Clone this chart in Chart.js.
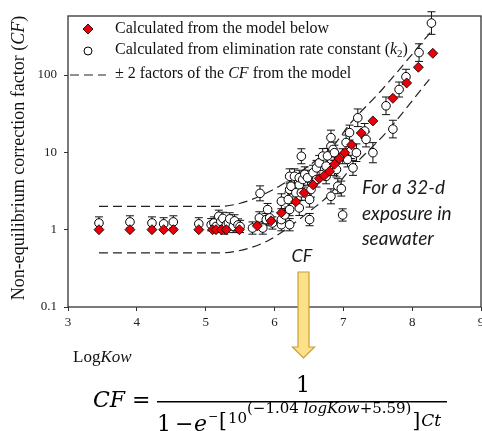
<!DOCTYPE html>
<html lang="en">
<head>
<meta charset="UTF-8">
<title>Non-equilibrium correction factor vs LogKow</title>
<style>
  html, body { margin: 0; padding: 0; background: #fff; overflow: hidden; }
  #wrap { position: relative; width: 500px; height: 431px; }
</style>
<script src="https://cdn.jsdelivr.net/npm/chart.js@4"></script>
</head>
<body>
<div id="wrap"><canvas id="cf-chart" width="500" height="431"></canvas></div>
<script>
// CF calculated from the model (red diamonds)
const modelX = [3.45, 3.90, 4.22, 4.39, 4.53, 4.90, 5.10, 5.15, 5.23, 5.30, 5.49,
                5.75, 5.95, 6.10, 6.31, 6.43, 6.56, 6.65, 6.72, 6.80, 6.87, 6.94,
                7.02, 7.12, 7.26, 7.43, 7.72, 7.92, 8.09, 8.30];
const modelCF = [1, 1, 1, 1, 1, 1, 1, 1, 1, 1, 1,
                 1.12, 1.3, 1.65, 2.3, 3.0, 3.8, 4.6, 5.0, 5.7, 7.0, 8.3,
                 9.9, 12.5, 17.8, 25.5, 50, 79, 126, 191];

// CF calculated from k2 (open circles) and their error factor
const kineticX = [3.45, 3.90, 4.22, 4.39, 4.53, 4.90,
                  5.08, 5.12, 5.15, 5.19, 5.22, 5.25, 5.27, 5.30, 5.33, 5.35, 5.40, 5.42, 5.47, 5.50,
                  5.68, 5.78, 5.79, 5.83, 5.88, 5.90, 5.93, 5.97,
                  6.10, 6.10, 6.10, 6.15, 6.20, 6.22, 6.22, 6.22, 6.22, 6.24, 6.29, 6.31,
                  6.36, 6.36, 6.36, 6.39, 6.39, 6.41, 6.44, 6.48, 6.51, 6.51, 6.53, 6.56,
                  6.61, 6.61, 6.65, 6.70, 6.75, 6.75, 6.77, 6.82, 6.82, 6.82, 6.85, 6.87,
                  6.87, 6.90, 6.92, 6.97, 6.99, 6.99, 7.04, 7.06, 7.09, 7.11, 7.14,
                  7.19, 7.21, 7.31, 7.33, 7.43, 7.62, 7.72, 7.81, 7.91, 8.10, 8.28];
const kineticCF = [1.22, 1.26, 1.22, 1.19, 1.26, 1.19,
                   1.16, 1.22, 1.10, 1.49, 1.28, 1.40, 1.05, 1.16, 1.22, 1.38, 1.10, 1.30, 1.15, 1.10,
                   1.05, 1.42, 2.95, 1.05, 1.35, 1.82, 1.42, 1.22,
                   1.16, 1.35, 2.33, 1.55, 2.45, 1.16, 1.82, 3.3, 4.9, 3.65, 4.9, 3.0,
                   1.91, 3.8, 4.7, 3.0, 8.9, 4.45, 5.2, 4.7, 1.35, 2.45, 3.3, 5.45,
                   4.45, 6.3, 7.3, 8.95, 4.9, 6.65, 9.0, 2.7, 12, 15.5, 10.9, 6.3,
                   9.9, 6.0, 3.65, 3.4, 1.55, 8.9, 13.4, 8.1, 18, 10.4, 6.3,
                   9.9, 28, 18.9, 14.7, 9.9, 40, 20, 65, 95, 195, 470];
const kineticErr = [1.2, 1.2, 1.2, 1.2, 1.2, 1.2,
                    1.2, 1.2, 1.2, 1.2, 1.2, 1.2, 1.2, 1.2, 1.2, 1.2, 1.2, 1.2, 1.2, 1.2,
                    1.2, 1.2, 1.25, 1.2, 1.2, 1.2, 1.2, 1.2,
                    1.2, 1.2, 1.25, 1.2, 1.25, 1.2, 1.2, 1.25, 1.25, 1.25, 1.25, 1.25,
                    1.25, 1.25, 1.25, 1.25, 1.25, 1.25, 1.25, 1.25, 1.2, 1.25, 1.25, 1.25,
                    1.25, 1.25, 1.25, 1.25, 1.25, 1.25, 1.25, 1.25, 1.25, 1.25, 1.25, 1.25,
                    1.25, 1.25, 1.25, 1.25, 1.2, 1.25, 1.25, 1.25, 1.25, 1.25, 1.25,
                    1.3, 1.3, 1.25, 1.25, 1.35, 1.3, 1.3, 1.25, 1.25, 1.3, 1.4];

// +/- 2 factor curves
const upperX = [3.45, 5.2, 5.49, 5.78, 6.07, 6.36, 6.65, 6.85, 7.09, 7.57, 8.27];
const upperCF = [2, 2, 2.18, 2.7, 3.65, 5.45, 8.5, 12, 23, 66, 360];
const lowerX = [3.45, 5.2, 5.64, 5.93, 6.22, 6.51, 6.8, 7.09, 7.62, 8.25];
const lowerCF = [0.5, 0.5, 0.58, 0.74, 1.1, 1.73, 2.85, 5.9, 18, 88];

const yTicks = [0.1, 1, 10, 100];
const yTickLabels = ['0.1', '1', '10', '100'];

const serif = '"Liberation Serif", "Times New Roman", serif';
const mathFont = '"DejaVu Serif", serif';
const sans = 'Lato, "Open Sans", sans-serif';

const pts = (xs, ys) => xs.map((v, i) => ({ x: v, y: ys[i] }));

// write text pieces one after the other, each with own font and offset
function runs(ctx, x, y, parts) {
    parts.forEach(p => {
        ctx.font = p.f;
        x += p.dx || 0;
        ctx.fillText(p.t, x, y + (p.dy || 0));
        x += ctx.measureText(p.t).width;
    });
    return x;
}
function runsWidth(ctx, parts) {
    let w = 0;
    parts.forEach(p => { ctx.font = p.f; w += ctx.measureText(p.t).width + (p.dx || 0); });
    return w;
}

const annotate = {
    id: 'annotate',
    beforeDatasetsDraw(chart) {
        const { ctx, chartArea: a, scales: { x, y } } = chart;
        ctx.save();
        ctx.strokeStyle = '#333';
        ctx.lineWidth = 1.3;
        ctx.strokeRect(a.left, a.top, a.right - a.left, a.bottom - a.top);

        // error bars of the k2 points
        ctx.strokeStyle = '#111';
        ctx.lineWidth = 1;
        kineticX.forEach((v, i) => {
            const px = x.getPixelForValue(v);
            const hi = y.getPixelForValue(kineticCF[i] * kineticErr[i]);
            const lo = y.getPixelForValue(kineticCF[i] / kineticErr[i]);
            ctx.beginPath();
            ctx.moveTo(px, hi); ctx.lineTo(px, lo);
            ctx.moveTo(px - 4, hi); ctx.lineTo(px + 4, hi);
            ctx.moveTo(px - 4, lo); ctx.lineTo(px + 4, lo);
            ctx.stroke();
        });
        ctx.restore();
    },
    afterDraw(chart) {
        const ctx = chart.ctx;
        ctx.save();
        ctx.fillStyle = '#111';
        ctx.textBaseline = 'middle';

        // legend
        ctx.fillStyle = '#e8000b';
        ctx.strokeStyle = '#000';
        ctx.lineWidth = 0.8;
        ctx.beginPath();
        ctx.moveTo(88, 24); ctx.lineTo(93, 29); ctx.lineTo(88, 34); ctx.lineTo(83, 29);
        ctx.closePath(); ctx.fill(); ctx.stroke();
        ctx.fillStyle = '#fff';
        ctx.lineWidth = 1;
        ctx.beginPath(); ctx.arc(88, 51, 4, 0, Math.PI * 2); ctx.fill(); ctx.stroke();
        ctx.strokeStyle = '#222';
        ctx.lineWidth = 1.2;
        ctx.setLineDash([9, 5]);
        ctx.beginPath(); ctx.moveTo(70, 75); ctx.lineTo(106, 75); ctx.stroke();
        ctx.setLineDash([]);

        ctx.fillStyle = '#111';
        const lf = '16px ' + serif, lfi = 'italic 16px ' + serif;
        runs(ctx, 115, 29, [{ t: 'Calculated from the model below', f: lf }]);
        runs(ctx, 115, 50, [
            { t: 'Calculated from elimination rate constant (', f: lf },
            { t: 'k', f: lfi },
            { t: '2', f: '11px ' + serif, dy: 4 },
            { t: ')', f: lf }
        ]);
        runs(ctx, 115, 74, [
            { t: '\u00b1 2 factors of the ', f: lf },
            { t: 'CF', f: lfi },
            { t: ' from the model', f: lf }
        ]);

        // y axis title
        const tf = '18px ' + serif, tfi = 'italic 18px ' + serif;
        const yTitle = [
            { t: 'Non-equilibrium correction factor (', f: tf },
            { t: 'CF', f: tfi },
            { t: ')', f: tf }
        ];
        ctx.save();
        ctx.translate(19, 158);
        ctx.rotate(-Math.PI / 2);
        runs(ctx, -runsWidth(ctx, yTitle) / 2, 0, yTitle);
        ctx.restore();

        // x axis title
        runs(ctx, 73, 358, [{ t: 'Log', f: '17px ' + serif }, { t: 'Kow', f: 'italic 17px ' + serif }]);

        // side note and arrow
        ctx.fillStyle = '#1a1a1a';
        ctx.font = 'italic 19px ' + sans;
        ctx.fillText('For a 32-d', 362, 188);
        ctx.fillText('exposure in', 362, 214);
        ctx.fillText('seawater', 362, 239);
        ctx.font = 'italic 18px ' + sans;
        ctx.textAlign = 'center';
        ctx.fillText('CF', 302, 256);
        ctx.textAlign = 'left';

        ctx.beginPath();
        ctx.moveTo(298, 272); ctx.lineTo(309, 272); ctx.lineTo(309, 347);
        ctx.lineTo(314.5, 347); ctx.lineTo(303.5, 358); ctx.lineTo(292.5, 347);
        ctx.lineTo(298, 347); ctx.closePath();
        ctx.fillStyle = '#fce08a';
        ctx.fill();
        ctx.strokeStyle = '#c9a132';
        ctx.lineWidth = 1.2;
        ctx.stroke();

        // formula
        ctx.fillStyle = '#000';
        ctx.textBaseline = 'alphabetic';
        const mf = '22px ' + mathFont, mfi = 'italic 22px ' + mathFont;
        runs(ctx, 93, 407, [{ t: 'CF', f: mfi }]);
        runs(ctx, 132, 407, [{ t: '=', f: mf }]);
        ctx.strokeStyle = '#000';
        ctx.lineWidth = 1.4;
        ctx.beginPath(); ctx.moveTo(157, 401.7); ctx.lineTo(447, 401.7); ctx.stroke();
        ctx.font = mf;
        ctx.textAlign = 'center';
        ctx.fillText('1', 303, 392);
        ctx.textAlign = 'left';
        runs(ctx, 157, 431, [{ t: '1', f: mf }]);
        runs(ctx, 175, 431, [{ t: '\u2212', f: mf }]);
        let fx = runs(ctx, 194, 431, [{ t: 'e', f: mfi }]);
        fx = runs(ctx, fx + 1, 420, [{ t: '\u2212', f: '12px ' + mathFont }]);
        fx = runs(ctx, fx + 1, 427, [{ t: '[', f: '20px ' + mathFont }]);
        fx = runs(ctx, fx + 1, 423, [{ t: '10', f: '15px ' + mathFont }]);
        fx = runs(ctx, fx, 413, [
            { t: '(\u22121.04 ', f: '15px ' + mathFont },
            { t: 'logKow', f: 'italic 15px ' + mathFont },
            { t: '+5.59)', f: '15px ' + mathFont }
        ]);
        runs(ctx, fx + 1, 427, [
            { t: ']', f: '20px ' + mathFont },
            { t: 'Ct', f: 'italic 17px ' + mathFont, dx: 1, dy: -1 }
        ]);
        ctx.restore();
    }
};

new Chart(document.getElementById('cf-chart').getContext('2d'), {
    type: 'scatter',
    data: {
        datasets: [
            {
                label: 'Calculated from the model below',
                data: pts(modelX, modelCF),
                pointStyle: 'rectRot',
                pointRadius: 5,
                backgroundColor: '#e8000b',
                borderColor: '#000',
                borderWidth: 0.8
            },
            {
                label: 'Calculated from elimination rate constant (k2)',
                data: pts(kineticX, kineticCF),
                pointStyle: 'circle',
                pointRadius: 4.3,
                backgroundColor: '#fff',
                borderColor: '#000',
                borderWidth: 1
            },
            {
                type: 'line',
                label: '+2 factors',
                data: pts(upperX, upperCF),
                borderColor: '#222',
                borderWidth: 1.2,
                borderDash: [9, 5],
                pointRadius: 0,
                cubicInterpolationMode: 'monotone',
                fill: false
            },
            {
                type: 'line',
                label: '-2 factors',
                data: pts(lowerX, lowerCF),
                borderColor: '#222',
                borderWidth: 1.2,
                borderDash: [9, 5],
                pointRadius: 0,
                cubicInterpolationMode: 'monotone',
                fill: false
            }
        ]
    },
    options: {
        responsive: false,
        animation: false,
        layout: { padding: { top: 16, right: 19, left: 0, bottom: 0 } },
        plugins: { legend: { display: false }, tooltip: { enabled: false } },
        scales: {
            x: {
                type: 'linear',
                min: 3,
                max: 9,
                afterFit: s => { s.height = 124; },
                border: { display: false },
                grid: { drawOnChartArea: false, drawTicks: true, tickLength: 4, color: '#333' },
                ticks: { stepSize: 1, padding: 4, color: '#222', font: { family: serif, size: 13 } }
            },
            y: {
                type: 'logarithmic',
                min: 0.1,
                max: 580,
                afterFit: s => { s.width = 68; },
                afterBuildTicks: s => { s.ticks = yTicks.map(v => ({ value: v })); },
                border: { display: false },
                grid: { drawOnChartArea: false, drawTicks: true, tickLength: 4, color: '#333' },
                ticks: {
                    padding: 7,
                    color: '#222',
                    font: { family: serif, size: 13 },
                    callback: v => yTickLabels[yTicks.indexOf(v)]
                }
            }
        }
    },
    plugins: [annotate]
});
</script>
</body>
</html>
